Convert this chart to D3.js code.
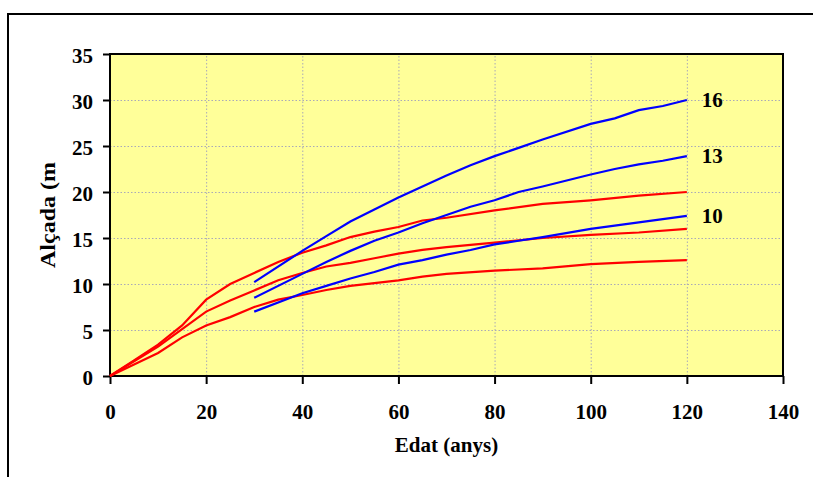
<!DOCTYPE html>
<html>
<head>
<meta charset="utf-8">
<script src="https://cdn.jsdelivr.net/npm/d3@7"></script>
<style>
  body { margin: 0; background: #fff; }
  svg text { font-weight: bold; fill: #000; }
</style>
</head>
<body>
<svg id="chart"></svg>
<script>
const xTicks = [0, 20, 40, 60, 80, 100, 120, 140];
const yTicks = [0, 5, 10, 15, 20, 25, 30, 35];

// red curves, one per site index
const redAges = [0, 5, 10, 15, 20, 25, 30, 35, 40, 45, 50, 55, 60, 65, 70, 80, 90, 100, 110, 120];
const redHigh = [0, 1.7, 3.4, 5.5, 8.3, 10.0, 11.2, 12.4, 13.4, 14.2, 15.1, 15.7, 16.2, 16.9, 17.2, 18.0, 18.7, 19.1, 19.6, 20.0];
const redMid  = [0, 1.6, 3.2, 5.1, 7.0, 8.2, 9.3, 10.4, 11.2, 11.9, 12.3, 12.8, 13.3, 13.7, 14.0, 14.5, 15.0, 15.35, 15.6, 16.0];
const redLow  = [0, 1.25, 2.5, 4.2, 5.5, 6.4, 7.5, 8.3, 8.8, 9.35, 9.8, 10.1, 10.4, 10.8, 11.1, 11.45, 11.7, 12.15, 12.4, 12.6];

// blue curves
const blueAges = [30, 40, 45, 50, 55, 60, 65, 70, 75, 80, 85, 90, 100, 105, 110, 115, 120];
const blue16 = [10.2, 13.6, 15.2, 16.8, 18.1, 19.4, 20.6, 21.8, 22.9, 23.9, 24.8, 25.7, 27.4, 28.0, 28.9, 29.35, 30.0];
const blue13 = [8.5, 11.1, 12.4, 13.6, 14.7, 15.6, 16.6, 17.5, 18.4, 19.1, 20.0, 20.6, 21.9, 22.5, 23.0, 23.4, 23.9];
const blue10 = [7.0, 9.0, 9.8, 10.6, 11.3, 12.1, 12.6, 13.2, 13.7, 14.3, 14.7, 15.1, 16.0, 16.35, 16.7, 17.05, 17.4];
const blueLabels = ["16", "13", "10"];

const FONT = "'Liberation Serif', 'DejaVu Serif', serif";

const margin = { top: 54, right: 30, bottom: 101, left: 110 };
const width = 783 - margin.left;
const height = 376 - margin.top;

const root = d3.select("#chart")
  .attr("width", 813)
  .attr("height", 477)
  .style("font-family", FONT);

// outer frame (runs off right and bottom)
root.append("rect")
  .attr("x", 8).attr("y", 14)
  .attr("width", 830).attr("height", 500)
  .attr("fill", "#fff")
  .attr("stroke", "#000")
  .attr("stroke-width", 2);

const svg = root.append("g")
  .attr("transform", `translate(${margin.left}, ${margin.top})`);

const xScale = d3.scaleLinear().domain([0, 140]).range([0, width]);
const yScale = d3.scaleLinear().domain([0, 35]).range([height, 0]);

svg.append("rect")
  .attr("width", width)
  .attr("height", height)
  .attr("fill", "#ffff99");

// grid
svg.append("g")
  .attr("class", "grid")
  .attr("transform", `translate(0, ${height})`)
  .call(d3.axisBottom(xScale).tickValues(xTicks.slice(1, -1)).tickSize(-height).tickFormat(""))
  .call(g => g.select(".domain").remove());

svg.append("g")
  .attr("class", "grid")
  .call(d3.axisLeft(yScale).tickValues(yTicks.slice(1, -1)).tickSize(-width).tickFormat(""))
  .call(g => g.select(".domain").remove());

svg.selectAll(".grid line")
  .attr("stroke", "#a9a9b8")
  .attr("stroke-width", 1)
  .attr("stroke-dasharray", "1.5,2");

// axes
const xAxis = svg.append("g")
  .attr("transform", `translate(0, ${height})`)
  .call(d3.axisBottom(xScale).tickValues(xTicks).tickSize(8).tickPadding(20));

const yAxis = svg.append("g")
  .call(d3.axisLeft(yScale).tickValues(yTicks).tickSize(7).tickPadding(10));

[xAxis, yAxis].forEach(a => {
  a.attr("font-family", null).attr("font-size", null);
  a.select(".domain").remove();
  a.selectAll("line").attr("stroke", "#000").attr("stroke-width", 2);
  a.selectAll("text").style("font-size", "21px").style("font-family", FONT);
});
yAxis.selectAll("text").attr("dy", "0.4em");

// plot border
svg.append("rect")
  .attr("width", width)
  .attr("height", height)
  .attr("fill", "none")
  .attr("stroke", "#000")
  .attr("stroke-width", 2);

const line = d3.line()
  .x(d => xScale(d[0]))
  .y(d => yScale(d[1]));

[redHigh, redMid, redLow].forEach(vals => {
  svg.append("path")
    .datum(redAges.map((a, i) => [a, vals[i]]))
    .attr("fill", "none")
    .attr("stroke", "#ff0000")
    .attr("stroke-width", 2.2)
    .attr("d", line);
});

[blue16, blue13, blue10].forEach((vals, k) => {
  svg.append("path")
    .datum(blueAges.map((a, i) => [a, vals[i]]))
    .attr("fill", "none")
    .attr("stroke", "#0000ff")
    .attr("stroke-width", 2.2)
    .attr("d", line);

  svg.append("text")
    .attr("x", xScale(blueAges[blueAges.length - 1]) + 15)
    .attr("y", yScale(vals[vals.length - 1]))
    .attr("dy", "0.35em")
    .style("font-size", "21px")
    .style("font-family", FONT)
    .text(blueLabels[k]);
});

// axis titles
svg.append("text")
  .attr("x", width / 2)
  .attr("y", 452 - margin.top)
  .attr("text-anchor", "middle")
  .style("font-size", "21px")
  .style("font-family", FONT)
  .text("Edat (anys)");

svg.append("text")
  .attr("transform", `translate(${55 - margin.left}, ${height / 2}) rotate(-90)`)
  .attr("text-anchor", "middle")
  .attr("textLength", 106)
  .attr("lengthAdjust", "spacingAndGlyphs")
  .style("font-size", "22px")
  .style("font-family", FONT)
  .text("Alçada (m");
</script>
</body>
</html>
